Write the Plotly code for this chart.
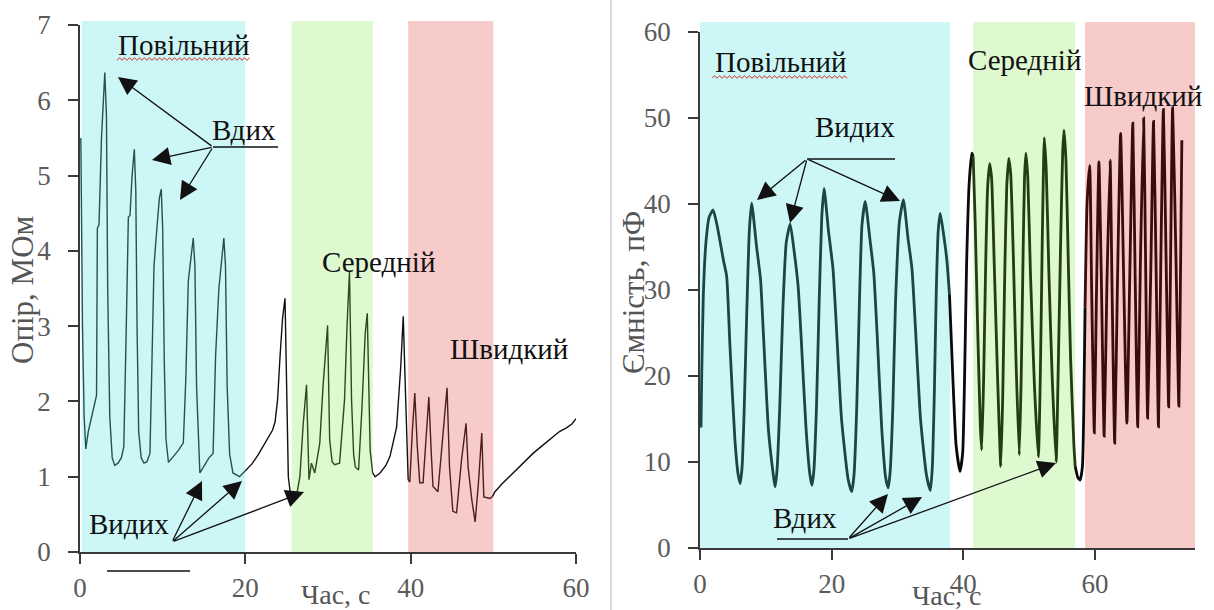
import plotly.graph_objects as go

W, H = 1214, 610
SERIF = "Liberation Serif"

# ---------------- DATA ----------------
# Left panel: resistance (MOhm) vs time (s)
res_slow_t = [0.1, 0.3, 0.5, 0.7, 1.0, 1.4, 1.8, 2.0, 2.1, 2.3, 2.6, 3.0, 3.2, 3.35, 3.6, 3.9, 4.2, 4.6, 5.0, 5.3,
              5.6, 5.85, 6.05, 6.3, 6.57, 6.75, 6.9, 7.1, 7.4, 7.74, 8.1, 8.46, 8.7, 8.95, 9.3, 9.6, 9.83, 10.0,
              10.2, 10.4, 10.7, 11.3, 11.9, 12.5, 12.8, 13.1, 13.4, 13.7, 13.9, 14.1, 14.5, 15.0, 15.6, 16.1,
              16.4, 16.8, 17.2, 17.4, 17.6, 17.8, 18.1, 18.5, 19.3, 20.0]
res_slow_v = [5.5, 3.0, 1.8, 1.37, 1.6, 1.8, 2.0, 2.08, 4.3, 4.35, 5.5, 6.37, 5.8, 3.5, 1.8, 1.25, 1.15, 1.18, 1.25, 1.4,
              3.0, 4.45, 4.47, 5.0, 5.35, 4.8, 3.0, 1.6, 1.25, 1.18, 1.2, 1.31, 2.5, 3.8, 4.3, 4.7, 4.82, 4.3,
              2.5, 1.5, 1.19, 1.27, 1.35, 1.45, 2.3, 3.6, 3.9, 4.17, 3.8, 2.2, 1.05, 1.15, 1.25, 1.31,
              2.6, 3.5, 4.0, 4.17, 3.8, 2.2, 1.3, 1.05, 1.0, 1.08]
res_pause1_t = [20.0, 20.8, 21.6, 22.6, 23.3, 23.6, 23.9, 24.2, 24.5, 24.8, 25.0, 25.2, 25.4, 25.6]
res_pause1_v = [1.08, 1.17, 1.3, 1.49, 1.62, 1.73, 2.02, 2.6, 3.1, 3.37, 2.2, 1.0, 0.82, 0.78]
res_mid_t = [25.6, 26.2, 26.6, 27.0, 27.4, 27.55, 27.7, 28.0, 28.4, 29.0, 29.4, 29.95, 30.2, 30.5, 30.8, 31.4,
             32.0, 32.3, 32.6, 32.85, 33.1, 33.3, 33.7, 34.1, 34.5, 34.75, 34.95, 35.1, 35.4]
res_mid_v = [0.78, 0.75, 1.0, 1.7, 2.22, 1.5, 0.96, 1.18, 1.05, 1.44, 2.2, 3.01, 1.49, 1.2, 1.16, 1.18,
             2.02, 3.0, 3.72, 2.02, 1.3, 1.13, 1.09, 1.9, 2.9, 3.17, 2.2, 1.35, 1.05]
res_pause2_t = [35.4, 35.7, 36.3, 37.0, 37.5, 38.0, 38.3, 38.8, 39.1, 39.4, 39.7]
res_pause2_v = [1.05, 1.0, 1.05, 1.15, 1.27, 1.5, 1.66, 2.46, 3.13, 2.02, 0.96]
res_fast_t = [39.7, 39.9, 40.2, 40.5, 40.8, 41.1, 41.5, 41.9, 42.2, 42.5, 42.7, 43.3, 43.9, 44.4, 44.7, 45.1,
              45.55, 46.15, 46.7, 46.95, 47.4, 47.8, 48.2, 48.6, 48.85, 49.6, 49.9]
res_fast_v = [0.96, 0.93, 1.6, 2.11, 1.4, 0.92, 0.92, 1.6, 2.06, 1.3, 0.87, 0.80, 1.58, 2.18, 1.13, 0.54,
              0.52, 1.22, 1.71, 1.13, 0.69, 0.40, 0.92, 1.58, 0.73, 0.71, 0.74]
res_after_t = [49.9, 50.2, 51.0, 52.4, 53.5, 54.8, 56.0, 57.2, 58.0, 58.85, 59.5, 60.0]
res_after_v = [0.74, 0.80, 0.9, 1.05, 1.17, 1.31, 1.42, 1.53, 1.6, 1.65, 1.7, 1.77]

# Right panel: capacitance (pF) vs time (s)
cap_slow_t = [0.15, 0.25, 0.5, 0.9, 1.4, 2.0, 2.6, 3.55, 4.05, 4.55, 5.3, 5.8, 6.1, 6.4, 6.7, 7.1, 7.5, 7.85,
              8.6, 9.2, 9.6, 10.4, 11.1, 11.4, 11.7, 12.1, 12.6, 13.1, 13.7, 14.3, 14.9, 15.4, 16.1, 16.7,
              17.0, 17.3, 17.7, 18.1, 18.5, 18.85, 19.5, 20.2, 20.7, 21.5, 22.5, 23.05, 23.4, 23.8, 24.2,
              24.6, 25.1, 25.8, 26.4, 26.9, 27.6, 28.2, 28.6, 28.9, 29.3, 29.7, 30.3, 30.9, 31.6, 32.2,
              32.7, 33.5, 34.4, 35.0, 35.3, 35.6, 35.9, 36.2, 36.5, 37.0, 37.5, 37.9]
cap_slow_v = [14.0, 19.6, 29.3, 35.5, 38.5, 39.3, 37.5, 33.5, 31.6, 23.5, 12.6, 8.5, 7.5, 9.5, 15.7, 27.3, 37.0, 40.1,
              35.0, 31.2, 25.4, 13.7, 8.7, 7.1, 9.0, 16.0, 28.0, 35.5, 37.7, 34.5, 30.5, 24.0, 14.0, 8.5,
              7.3, 9.0, 16.5, 28.5, 38.5, 41.8, 37.0, 32.5, 26.0, 15.0, 8.0, 6.55, 8.5, 16.0, 28.0,
              37.5, 40.3, 36.0, 32.0, 25.0, 14.0, 8.2, 7.0, 9.0, 16.5, 28.5, 38.0, 40.5, 36.0, 32.5,
              26.0, 15.0, 8.5, 6.7, 9.5, 18.0, 30.0, 37.0, 38.9, 36.5, 33.5, 29.5]
cap_pause1_t = [37.9, 38.4, 38.9, 39.5, 39.9, 40.2, 40.5, 40.9, 41.3, 41.5]
cap_pause1_v = [29.5, 20.0, 12.0, 8.9, 11.0, 20.0, 33.0, 42.5, 45.9, 45.5]
cap_mid_t = [41.5, 41.8, 42.2, 42.6, 42.8, 43.1, 43.4, 43.7, 44.0, 44.3, 44.7, 45.2, 45.7, 46.0, 46.3, 46.6,
             46.9, 47.2, 47.6, 48.0, 48.5, 48.8, 49.1, 49.3, 49.5, 49.8, 50.2, 50.8, 51.4, 51.7, 52.0,
             52.2, 52.3, 52.6, 53.0, 53.5, 54.1, 54.4, 54.8, 55.1, 55.3, 55.6, 55.9, 56.3, 56.8, 57.0]
cap_mid_v = [45.5, 38.0, 25.0, 14.0, 11.4, 20.0, 33.0, 42.0, 44.7, 43.0, 33.0, 20.0, 9.5, 18.0, 32.0, 42.0,
             45.3, 43.5, 34.0, 22.0, 10.8, 20.0, 35.0, 43.0, 45.9, 43.0, 32.0, 19.0, 10.6, 20.0, 36.0,
             45.0, 47.7, 44.0, 32.0, 20.0, 10.0, 20.0, 36.0, 46.0, 48.6, 45.0, 35.0, 22.0, 12.0, 9.5]
cap_pause2_t = [57.0, 57.4, 57.75, 58.1, 58.3, 58.5]
cap_pause2_v = [9.5, 8.2, 7.9, 9.5, 16.0, 28.0]
cap_fast_t = [58.5, 58.8, 59.2, 59.5, 59.9, 60.2, 60.6, 61.0, 61.4, 61.8, 62.3, 62.6, 63.0, 63.4, 63.9, 64.4,
              64.85, 65.3, 65.75, 66.1, 66.5, 66.9, 67.4, 67.7, 68.0, 68.5, 68.9, 69.3, 69.65, 70.0, 70.4,
              70.8, 71.2, 71.5, 71.8, 72.3, 72.75, 73.0, 73.2]
cap_fast_v = [28.0, 40.0, 44.5, 30.0, 13.4, 28.0, 44.9, 30.0, 13.0, 30.0, 45.1, 30.0, 12.2, 30.0, 48.2, 30.0,
              14.5, 32.0, 49.4, 32.0, 14.1, 33.0, 50.0, 33.0, 15.1, 33.0, 49.6, 32.0, 14.1, 33.0, 51.0,
              34.0, 16.4, 34.0, 51.2, 34.0, 16.5, 32.0, 47.4]

# Breathing regimes (start, end in seconds) per panel
regime_names = ["Повільний", "Середній", "Швидкий"]
res_regimes = [(0.2, 20.0), (25.6, 35.4), (39.7, 50.0)]
cap_regimes = [(0.0, 38.0), (41.5, 57.0), (58.5, 75.7)]

left_xticks = [0, 20, 40, 60]
left_yticks = [0, 1, 2, 3, 4, 5, 6, 7]
right_xticks = [0, 20, 40, 60]
right_yticks = [0, 10, 20, 30, 40, 50, 60]

# ---------------- STYLE ----------------
band_colors = ["#cdf7f7", "#def8d0", "#f8cbcb"]
left_colors = {"slow": "#1f5550", "pause": "#111111", "mid": "#2c4a17", "fast": "#4e1d1d"}
right_colors = {"slow": "#1b4646", "pause": "#0a0a0a", "mid": "#243d10", "fast": "#3a0c0c"}


def px(x):
    return x / W


def py(y):
    return 1 - y / H


fig = go.Figure()

left_segments = [
    (res_slow_t, res_slow_v, left_colors["slow"]),
    (res_pause1_t, res_pause1_v, left_colors["pause"]),
    (res_mid_t, res_mid_v, left_colors["mid"]),
    (res_pause2_t, res_pause2_v, left_colors["pause"]),
    (res_fast_t, res_fast_v, left_colors["fast"]),
    (res_after_t, res_after_v, left_colors["pause"]),
]
for t, v, c in left_segments:
    fig.add_trace(go.Scatter(x=t, y=v, mode="lines", line=dict(color=c, width=1.4),
                             xaxis="x", yaxis="y", showlegend=False, hoverinfo="skip"))

right_segments = [
    (cap_slow_t, cap_slow_v, right_colors["slow"]),
    (cap_pause1_t, cap_pause1_v, right_colors["pause"]),
    (cap_mid_t, cap_mid_v, right_colors["mid"]),
    (cap_pause2_t, cap_pause2_v, right_colors["pause"]),
    (cap_fast_t, cap_fast_v, right_colors["fast"]),
]
for t, v, c in right_segments:
    fig.add_trace(go.Scatter(x=t, y=v, mode="lines",
                             line=dict(color=c, width=2.8, shape="spline", smoothing=0.5),
                             xaxis="x2", yaxis="y2", showlegend=False, hoverinfo="skip"))

shapes = []
# Regime bands
for (a, b), col in zip(res_regimes, band_colors):
    shapes.append(dict(type="rect", xref="x", yref="paper", x0=a, x1=b, y0=py(552), y1=py(21),
                       fillcolor=col, line=dict(width=0), layer="below"))
for (a, b), col in zip(cap_regimes, band_colors):
    shapes.append(dict(type="rect", xref="x2", yref="paper", x0=a, x1=b, y0=py(548), y1=py(22),
                       fillcolor=col, line=dict(width=0), layer="below"))


def hline(x0, x1, y, color="#111111", w=1.3):
    return dict(type="line", xref="paper", yref="paper", x0=px(x0), x1=px(x1), y0=py(y), y1=py(y),
                line=dict(color=color, width=w))


def wavy(x0, x1, y):
    pts = []
    x = x0
    k = 0
    while x <= x1:
        yy = y + (1.3 if k % 2 == 0 else -1.3)
        pts.append(f"{px(x):.5f},{py(yy):.5f}")
        x += 2.5
        k += 1
    return dict(type="path", xref="paper", yref="paper", path="M" + " L".join(pts),
                line=dict(color="#d23030", width=1))


shapes += [
    hline(213, 278, 147),
    hline(107, 190, 571),
    hline(807, 895, 159),
    hline(777, 848, 539),
    wavy(117, 250, 59),
    wavy(712, 848, 77),
    dict(type="line", xref="paper", yref="paper", x0=px(611), x1=px(611), y0=0, y1=1,
         line=dict(color="#d9d9d9", width=2)),
]

annotations = []


def text(s, x, y, size=29, color="#111111", angle=0):
    annotations.append(dict(text=s, xref="paper", yref="paper", x=px(x), y=py(y), showarrow=False,
                            xanchor="center", yanchor="middle", textangle=angle,
                            font=dict(family=SERIF, size=size, color=color)))


def arrow(tail, head):
    annotations.append(dict(text="", xref="paper", yref="paper", x=px(head[0]), y=py(head[1]),
                            axref="pixel", ayref="pixel", ax=tail[0] - head[0], ay=tail[1] - head[1],
                            showarrow=True, arrowhead=2, arrowsize=2.8, arrowwidth=1.3,
                            arrowcolor="#111111", standoff=0, startstandoff=0))


# Left panel labels
text(regime_names[0], 183, 45)
text("Вдих", 244, 130)
text(regime_names[1], 378, 262)
text(regime_names[2], 509, 349)
text("Видих", 129, 524)
text("Час, с", 335, 594, size=28, color="#555555")
text("Опір, МОм", 22, 290, size=31, color="#555555", angle=-90)
for h in [(118, 77), (152, 160), (180, 200)]:
    arrow((213, 147), h)
for h in [(202, 481), (242, 481), (304, 492)]:
    arrow((172, 542), h)

# Right panel labels
text(regime_names[0], 780, 62)
text("Видих", 855, 127)
text(regime_names[1], 1024, 60)
text(regime_names[2], 1143, 96)
text("Вдих", 805, 518)
text("Час, с", 946, 595, size=28, color="#555555")
text("Ємність, пФ", 633, 293, size=31, color="#555555", angle=-90)
for h in [(757, 200), (790, 223), (900, 201)]:
    arrow((807, 159), h)
for h in [(888, 494), (922, 497), (1056, 463)]:
    arrow((848, 539), h)

axis_common = dict(showline=True, linecolor="#3a3a3a", linewidth=1.5, ticks="outside", ticklen=10,
                   tickwidth=1.5, tickcolor="#3a3a3a", showgrid=False, zeroline=False, automargin=False,
                   tickfont=dict(family=SERIF, size=27, color="#5a5a5a"))
xaxis_common = dict(axis_common, ticklabelstandoff=1)
yaxis_common = dict(axis_common, ticklabelstandoff=12)

fig.update_layout(
    width=W, height=H, margin=dict(l=0, r=0, t=0, b=0, autoexpand=False),
    paper_bgcolor="white", plot_bgcolor="rgba(0,0,0,0)",
    font=dict(family=SERIF),
    xaxis=dict(domain=[px(80), px(576)], range=[0, 60], tickvals=left_xticks, anchor="y", **xaxis_common),
    yaxis=dict(domain=[py(552), py(25)], range=[0, 7], tickvals=left_yticks, anchor="x", **yaxis_common),
    xaxis2=dict(domain=[px(700), px(1195)], range=[0, 75.2], tickvals=right_xticks, anchor="y2", **xaxis_common),
    yaxis2=dict(domain=[py(548), py(32)], range=[0, 60], tickvals=right_yticks, anchor="x2", **yaxis_common),
    shapes=shapes, annotations=annotations, showlegend=False,
)

fig.write_html("out.html")
